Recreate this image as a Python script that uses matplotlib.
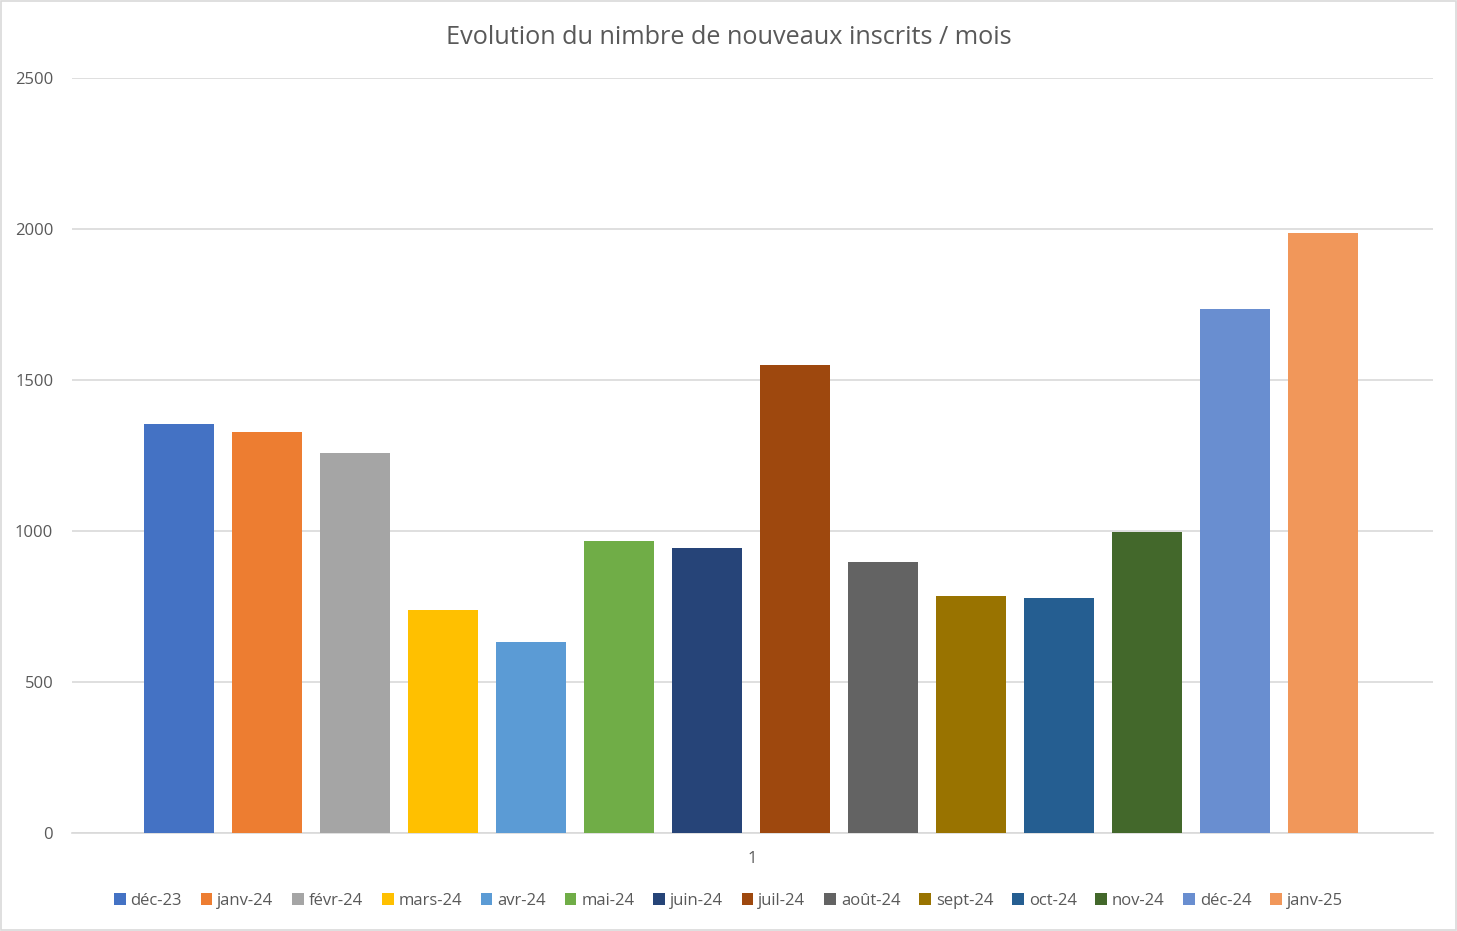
import matplotlib.pyplot as plt
from matplotlib.patches import Rectangle, Patch

months = ["déc-23", "janv-24", "févr-24", "mars-24", "avr-24", "mai-24", "juin-24",
          "juil-24", "août-24", "sept-24", "oct-24", "nov-24", "déc-24", "janv-25"]
inscrits = [1354, 1328, 1258, 738, 632, 967, 944, 1550, 897, 785, 778, 997, 1735, 1987]
colors = ["#4472C4", "#ED7D31", "#A5A5A5", "#FFC000", "#5B9BD5", "#70AD47", "#264478",
          "#9E480E", "#636363", "#997300", "#255E91", "#43682B", "#698ED0", "#F1975A"]
yticks = [0, 500, 1000, 1500, 2000, 2500]

plt.rcParams['font.family'] = ['Open Sans', 'DejaVu Sans']
txt = "#595959"

fig = plt.figure(figsize=(14.57, 9.31), dpi=100)
ax = fig.add_axes([72 / 1457, 1 - 833 / 931, 1361 / 1457, 755 / 931])

step = 88 / 1361
width = 70 / 1361
n = len(months)
for i, (m, v, c) in enumerate(zip(months, inscrits, colors)):
    ax.bar((i - (n - 1) / 2) * step - 0.001, v, width=width, color=c, label=m, zorder=3)

ax.set_xlim(-0.5, 0.5)
ax.set_ylim(0, 2500)
ax.set_yticks(yticks)
ax.set_yticklabels([str(t) for t in yticks], ha="right")
ax.set_xticks([0])
ax.set_xticklabels(["1"])
ax.grid(axis="y", color="#D9D9D9", linewidth=1.2, zorder=0)
for s in ["top", "right", "left"]:
    ax.spines[s].set_visible(False)
ax.spines["bottom"].set_color("#D9D9D9")
ax.spines["bottom"].set_linewidth(1.2)
ax.tick_params(axis="both", length=0, labelsize=12, labelcolor=txt)
ax.tick_params(axis="y", pad=13.5)
ax.tick_params(axis="x", pad=13)

fig.text(0.5, 1 - 37 / 931, "Evolution du nimbre de nouveaux inscrits / mois",
         ha="center", va="center", fontsize=18.2, color=txt)

handles = [Patch(facecolor=c, edgecolor="none") for c in colors]
fig.legend(handles, months, loc="center", bbox_to_anchor=(0.5, 1 - 901 / 931), ncol=n,
           frameon=False, fontsize=12, labelcolor=txt, handlelength=0.7, handleheight=0.7,
           handletextpad=0.3, columnspacing=1.12)

fig.patches.append(Rectangle((0.001, 0.001), 0.998, 0.998, transform=fig.transFigure,
                             fill=False, edgecolor="#D9D9D9", linewidth=1.2))

fig.savefig("out.png", dpi=100)
